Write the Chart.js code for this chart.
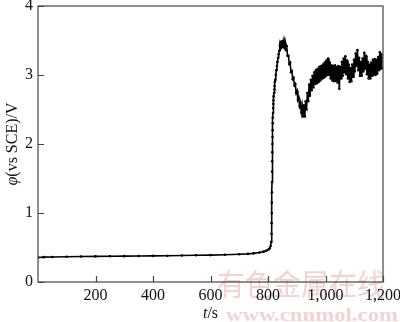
<!DOCTYPE html>
<html>
<head>
<meta charset="utf-8">
<script src="https://cdn.jsdelivr.net/npm/chart.js@4/dist/chart.umd.min.js"></script>
<style>
html,body{margin:0;padding:0;background:#fff;}
#wrap{width:400px;height:322px;position:relative;}
</style>
</head>
<body>
<div id="wrap"><canvas id="c" width="400" height="322"></canvas></div>
<script>
// time (s)
const times = [
  0,20,50,100,150,200,250,300,350,400,450,500,550,600,650,700,730,750,770,785,795,802,806,809,811,
  812,812.5,813,813.3,813.6,814,814.3,814.6,815,815.4,815.8,816.2,816.6,817,817.5,818,818.5,819,820,821,822,823,824,
  825,827,829,831,833,835,837,839,841,843,845,847,849,851,853,855,857,859,861,863,865,868,871,874,877,880,883,886,889,892,895,898,901,904,907,910,913,916,919,922,
  925,928,931,934,937,940,943,946,949,952,955,958,961,964,967,970,973,976,979,982,985,988,991,994,997,1000,
  1003,1006,1009,1012,1015,1018,1021,1024,1027,1030,1033,1036,1039,1042,1045,1048,1051,1054,1057,1060,
  1063,1066,1069,1072,1075,1078,1081,1084,1087,1090,1093,1096,1099,1102,1105,1108,1111,1114,1117,1120,
  1123,1126,1129,1132,1135,1138,1141,1144,1147,1150,1153,1156,1159,1162,1165,1168,1171,1174,1177,1180,
  1183,1186,1189,1192,1194,1196
];
// potential φ (V vs SCE)
const potentials = [
  0.355,0.36,0.363,0.366,0.369,0.371,0.373,0.375,0.377,0.379,0.381,0.384,0.387,0.39,0.395,0.402,0.408,0.415,0.427,0.44,0.455,0.47,0.49,0.52,0.58,
  0.7,0.85,1.0,1.15,1.3,1.45,1.6,1.75,1.88,2.0,2.1,2.2,2.3,2.38,2.45,2.52,2.58,2.63,2.69,2.74,2.79,2.84,2.9,
  2.93,3.0,3.07,3.13,3.19,3.25,3.3,3.35,3.42,3.38,3.48,3.4,3.49,3.41,3.48,3.4,3.47,3.38,3.45,3.36,3.42,3.28,3.28,3.16,3.18,3.04,3.06,2.94,2.96,2.85,2.87,2.74,2.77,2.64,2.67,2.55,2.6,2.46,2.55,2.4,
  2.56,2.4,2.62,2.5,2.74,2.62,2.86,2.7,2.93,2.78,2.99,2.82,3.04,2.87,3.07,2.88,3.09,2.9,3.12,2.92,3.13,2.95,3.15,2.96,3.18,2.98,
  3.21,3.0,3.24,3.0,3.18,2.95,3.14,2.92,3.13,2.91,3.14,2.92,3.11,2.89,3.13,2.8,3.12,2.95,3.19,2.99,
  3.24,3.04,3.27,3.01,3.21,2.95,3.15,2.9,3.1,2.91,3.15,2.97,3.22,3.05,3.31,3.13,3.36,3.07,3.25,2.99,
  3.19,2.99,3.24,3.05,3.32,3.09,3.28,3.01,3.19,2.95,3.15,2.95,3.18,2.99,3.22,3.01,3.23,3.0,3.22,3.02,
  3.26,3.07,3.33,3.09,3.3,3.1
];
const xTicks = [200,400,600,800,1000,1200];
const yTicks = [0,1,2,3,4];
const xTitleVar = 't', xTitleRest = '/s';
const yTitleVar = 'φ', yTitleRest = '(vs SCE)/V';
const wmCN = '有色金属在线';
const wmEN = 'www.cnnmol.com';

const points = times.map((t,i)=>({x:t,y:potentials[i]}));
const SERIF = '"Liberation Serif","Times New Roman",serif';

const decor = {
  id:'decor',
  beforeDraw(chart){
    const ctx = chart.ctx;
    ctx.save();
    ctx.fillStyle = '#f3d2d2';
    ctx.textBaseline = 'alphabetic';
    ctx.font = '30px "Noto Sans CJK SC"';
    let w = ctx.measureText(wmCN).width;
    ctx.save();
    ctx.translate(217, 295);
    ctx.scale(168/w, 1);
    ctx.fillText(wmCN, 0, 0);
    ctx.restore();
    ctx.font = 'bold 19px ' + SERIF;
    w = ctx.measureText(wmEN).width;
    ctx.translate(226, 321);
    ctx.scale(172/w, 1);
    ctx.fillText(wmEN, 0, 0);
    ctx.restore();
  },
  afterDraw(chart){
    const ctx = chart.ctx, a = chart.chartArea;
    const xs = chart.scales.x, ys = chart.scales.y;
    ctx.save();
    ctx.strokeStyle = '#444';
    ctx.lineWidth = 1.2;
    ctx.strokeRect(a.left, a.top, a.right-a.left, a.bottom-a.top);
    ctx.beginPath();
    xTicks.forEach(v=>{
      const px = Math.round(xs.getPixelForValue(v))+0.5;
      ctx.moveTo(px, a.bottom); ctx.lineTo(px, a.bottom-6);
    });
    yTicks.forEach(v=>{
      const py = Math.round(ys.getPixelForValue(v))+0.5;
      ctx.moveTo(a.left, py); ctx.lineTo(a.left+6, py);
    });
    ctx.stroke();
    // axis titles
    ctx.fillStyle = '#111';
    ctx.textBaseline = 'middle';
    const itf = 'italic 16px ' + SERIF, rf = '16px ' + SERIF;
    ctx.font = itf; const w1 = ctx.measureText(xTitleVar).width;
    ctx.font = rf; const w2 = ctx.measureText(xTitleRest).width;
    let cx = (a.left+a.right)/2 - (w1+w2)/2;
    ctx.textAlign = 'left';
    ctx.font = itf; ctx.fillText(xTitleVar, cx, 314);
    ctx.font = rf; ctx.fillText(xTitleRest, cx+w1, 314);
    ctx.save();
    ctx.translate(13, (a.top+a.bottom)/2);
    ctx.rotate(-Math.PI/2);
    ctx.font = itf; const v1 = ctx.measureText(yTitleVar).width;
    ctx.font = rf; const v2 = ctx.measureText(yTitleRest).width;
    const sx = -(v1+v2)/2;
    ctx.font = itf; ctx.fillText(yTitleVar, sx, 0);
    ctx.font = rf; ctx.fillText(yTitleRest, sx+v1, 0);
    ctx.restore();
    ctx.restore();
  }
};

new Chart(document.getElementById('c'), {
  type:'scatter',
  data:{datasets:[{
    data: points,
    showLine: true,
    borderColor:'#000',
    borderWidth:1.6,
    backgroundColor:'#000',
    pointRadius:1.3,
    pointBorderWidth:0,
    pointBackgroundColor:'#000',
    tension:0
  }]},
  options:{
    responsive:false,
    animation:false,
    devicePixelRatio:1,
    layout:{padding:{top:6,right:17,left:0,bottom:0}},
    plugins:{legend:{display:false},tooltip:{enabled:false}},
    scales:{
      x:{
        type:'linear', min:0, max:1200,
        afterBuildTicks(s){ s.ticks = xTicks.map(v=>({value:v})); },
        ticks:{color:'#111', font:{family:SERIF, size:16}, padding:4, maxRotation:0, autoSkip:false},
        grid:{display:false, drawTicks:false},
        border:{display:false},
        afterFit(s){ s.height = 40; s.paddingLeft = 0; s.paddingRight = 0; }
      },
      y:{
        type:'linear', min:0, max:4,
        afterBuildTicks(s){ s.ticks = yTicks.map(v=>({value:v})); },
        ticks:{color:'#111', font:{family:SERIF, size:16}, padding:5},
        grid:{display:false, drawTicks:false},
        border:{display:false},
        afterFit(s){ s.width = 38; s.paddingTop = 0; s.paddingBottom = 0; }
      }
    }
  },
  plugins:[decor]
});
</script>
</body>
</html>
